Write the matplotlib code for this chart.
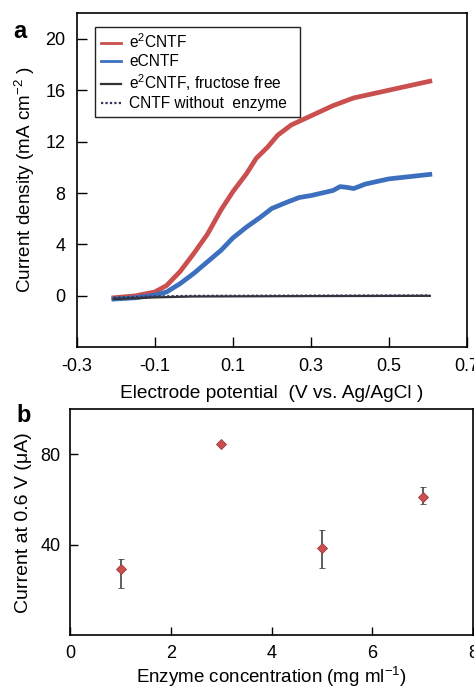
import matplotlib
matplotlib.use("Agg")
import matplotlib.pyplot as plt

plt.rcParams['font.family'] = ['Liberation Sans', 'DejaVu Sans']
plt.rcParams['mathtext.fontset'] = 'custom'
plt.rcParams['mathtext.rm'] = 'Liberation Sans'
plt.rcParams['mathtext.it'] = 'Liberation Sans:italic'

# panel a: polarisation curves (V vs. Ag/AgCl, mA cm-2)
red_v = [-0.205, -0.15, -0.1, -0.07, -0.035, 0.0, 0.035, 0.07, 0.1, 0.135, 0.16, 0.19,
         0.215, 0.25, 0.3, 0.357, 0.41, 0.5, 0.605]
red_j = [-0.15, 0.0, 0.3, 0.8, 1.9, 3.3, 4.8, 6.7, 8.1, 9.5, 10.7, 11.6,
         12.5, 13.3, 14.0, 14.8, 15.4, 16.0, 16.7]
blue_v = [-0.205, -0.15, -0.1, -0.07, -0.035, 0.0, 0.035, 0.07, 0.1, 0.135, 0.17, 0.2,
          0.24, 0.27, 0.3, 0.357, 0.375, 0.39, 0.41, 0.44, 0.5, 0.605]
blue_j = [-0.25, -0.15, 0.05, 0.3, 0.95, 1.75, 2.65, 3.55, 4.5, 5.35, 6.1, 6.8,
          7.3, 7.65, 7.8, 8.2, 8.5, 8.45, 8.35, 8.7, 9.1, 9.45]
free_v = [-0.205, -0.1, 0.0, 0.3, 0.605]
free_j = [-0.25, -0.12, -0.05, -0.02, 0.0]
noenz_v = [-0.205, -0.1, 0.0, 0.3, 0.605]
noenz_j = [-0.15, -0.05, 0.0, 0.02, 0.03]

# panel b: current at 0.6 V vs enzyme concentration
conc = [1, 3, 5, 7]
current = [29.4, 84.8, 38.4, 61.0]
err_low = [8.5, 0.8, 8.5, 3.0]
err_high = [4.5, 0.8, 8.0, 4.5]

red = '#c9504f'
blue = '#3d6fbf'

fig = plt.figure(figsize=(4.74, 6.89), dpi=100)

ax = fig.add_axes([0.162, 0.496, 0.823, 0.485])
ax.plot(red_v, red_j, color=red, lw=3.4, label='e$^2$CNTF', solid_joinstyle='round')
ax.plot(blue_v, blue_j, color=blue, lw=3.4, label='eCNTF', solid_joinstyle='round')
ax.plot(free_v, free_j, color='#333333', lw=1.6, label='e$^2$CNTF, fructose free')
ax.plot(noenz_v, noenz_j, color='#333355', lw=1.6, ls=(0, (1, 1)),
        label='CNTF without  enzyme')
ax.set_xlim(-0.3, 0.7)
ax.set_ylim(-4, 22)
ax.set_xticks([-0.3, -0.1, 0.1, 0.3, 0.5, 0.7])
ax.set_xticklabels(['-0.3', '-0.1', '0.1', '0.3', '0.5', '0.7'])
ax.set_yticks([0, 4, 8, 12, 16, 20])
ax.tick_params(direction='in', length=7, width=1, labelsize=13, pad=8)
ax.set_xlabel('Electrode potential  (V vs. Ag/AgCl )', fontsize=13.8, labelpad=7)
ax.set_ylabel('Current density (mA cm$^{-2}$ )', fontsize=13.6, labelpad=6)
leg = ax.legend(loc='upper left', fontsize=11.2, handlelength=1.3,
                handletextpad=0.5, labelspacing=0.2, borderpad=0.35,
                fancybox=False, edgecolor='#222222', framealpha=1,
                mode='expand', bbox_to_anchor=(0.028, 0.728, 0.564, 0.254))
leg.get_frame().set_linewidth(1.0)
for line in leg.get_lines()[:2]:
    line.set_linewidth(2.0)
for s in ax.spines.values():
    s.set_linewidth(1.2)
fig.text(0.027, 0.945, 'a', fontsize=17, fontweight='bold')

bx = fig.add_axes([0.148, 0.078, 0.850, 0.328])
bx.errorbar(conc, current, yerr=[err_low, err_high], fmt='D', color=red,
            markersize=5.5, ecolor='#444444', elinewidth=1.2, capsize=2.5,
            markeredgecolor='#a03a3a', markeredgewidth=0.6)
bx.set_xlim(0, 8)
bx.set_ylim(0, 100)
bx.set_xticks([0, 2, 4, 6, 8])
bx.set_yticks([40, 80])
bx.tick_params(direction='in', length=6, width=1, labelsize=13, pad=7)
bx.set_xlabel('Enzyme concentration (mg ml$^{-1}$)', fontsize=13.5, labelpad=2)
bx.set_ylabel('Current at 0.6 V (\u03bcA)', fontsize=14, labelpad=6)
for s in bx.spines.values():
    s.set_linewidth(1.2)
fig.text(0.035, 0.388, 'b', fontsize=17, fontweight='bold')

fig.savefig('out.png', dpi=100)
